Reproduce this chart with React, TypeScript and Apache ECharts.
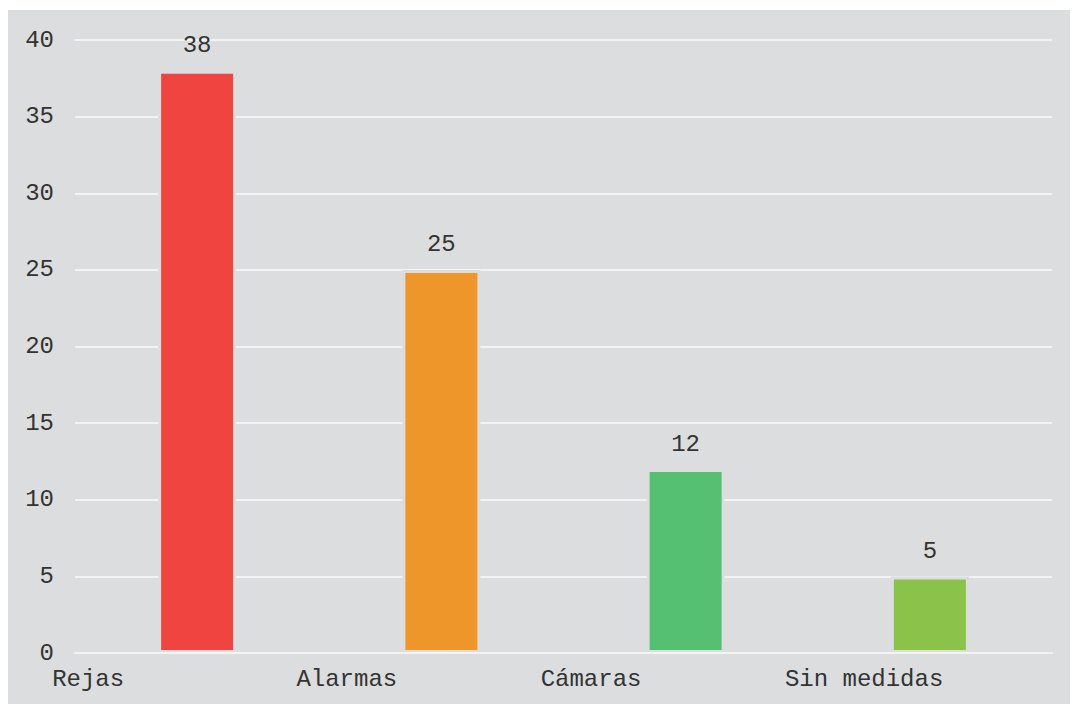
import React, { useEffect, useRef } from "react";
import * as echarts from "echarts";

const categories = ["Rejas", "Alarmas", "Cámaras", "Sin medidas"];
const values = [38, 25, 12, 5];
const barColors = ["#ef4440", "#ee9629", "#55bf72", "#8bc34a"];
const yTicks = { min: 0, max: 40, interval: 5 };

const BG = "#dcdddf";
const GRID = "#f3f3f3";
const FONT = "'Courier New', 'Liberation Mono', monospace";

export default function App() {
  const ref = useRef<HTMLDivElement>(null);
  useEffect(() => {
    if (!ref.current) return;
    const chart = echarts.init(ref.current, null, { renderer: "svg" });
    chart.setOption({
      animation: false,
      backgroundColor: BG,
      grid: { left: 67, right: 26, top: 30, bottom: 51, containLabel: false, outerBoundsMode: "none" },
      xAxis: {
        type: "category",
        data: categories,
        z: 5,
        axisLine: { show: true, lineStyle: { color: GRID, width: 2 } },
        axisTick: { show: false },
        axisLabel: {
          color: "#333",
          fontFamily: FONT,
          fontSize: 24,
          align: "left",
          margin: 14,
          padding: [0, 0, 0, -145],
          hideOverlap: false,
        },
      },
      yAxis: {
        type: "value",
        min: yTicks.min,
        max: yTicks.max,
        interval: yTicks.interval,
        axisLine: { show: false },
        axisTick: { show: false },
        splitLine: { lineStyle: { color: GRID, width: 2 } },
        axisLabel: { color: "#333", fontFamily: FONT, fontSize: 24, margin: 21 },
      },
      series: [
        {
          type: "bar",
          barWidth: 78,
          data: values.map((v, i) => ({
            value: v,
            itemStyle: { color: barColors[i], borderColor: BG, borderWidth: 3 },
          })),
          label: {
            show: true,
            position: "top",
            distance: 13,
            color: "#333",
            fontFamily: FONT,
            fontSize: 24,
          },
        },
      ],
    });
    return () => chart.dispose();
  }, []);
  return (
    <div style={{ paddingTop: 2 }}>
      <div ref={ref} style={{ width: 1070, height: 694 }} />
    </div>
  );
}
